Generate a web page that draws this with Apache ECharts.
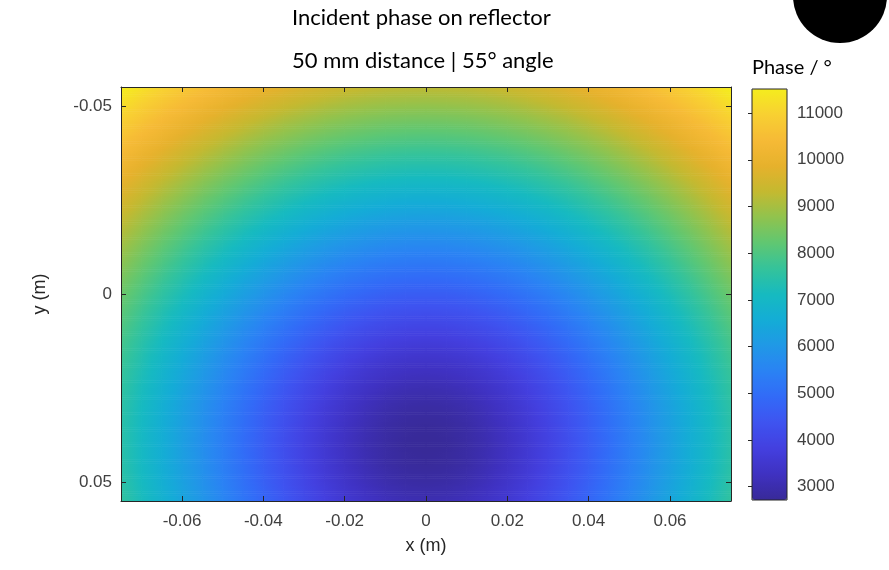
<!DOCTYPE html>
<html><head><meta charset="utf-8">
<script src="https://cdn.jsdelivr.net/npm/echarts@6/dist/echarts.min.js"></script>
<style>html,body{margin:0;padding:0;background:#fff}#c{width:889px;height:570px}</style>
</head><body><div id="c"></div>
<script>
// grid nodes (m)
const xValues = [-0.075,-0.07,-0.065,-0.06,-0.055,-0.05,-0.045,-0.04,-0.035,-0.03,-0.025,-0.02,-0.015,-0.01,-0.005,0,0.005,0.01,0.015,0.02,0.025,0.03,0.035,0.04,0.045,0.05,0.055,0.06,0.065,0.07,0.075];
const yValues = [-0.055,-0.05,-0.045,-0.04,-0.035,-0.03,-0.025,-0.02,-0.015,-0.01,-0.005,0,0.005,0.01,0.015,0.02,0.025,0.03,0.035,0.04,0.045,0.05,0.055];
// phase in degrees, one row per y value, one column per x value
const phaseRows = [
[11590,11310,11050,10800,10570,10350,10150,9970,9810,9660,9540,9430,9350,9290,9260,9250,9260,9290,9350,9430,9540,9660,9810,9970,10150,10350,10570,10800,11050,11310,11590],
[11240,10950,10680,10430,10180,9960,9750,9560,9390,9240,9110,9000,8910,8850,8820,8800,8820,8850,8910,9000,9110,9240,9390,9560,9750,9960,10180,10430,10680,10950,11240],
[10890,10600,10320,10060,9810,9570,9350,9150,8970,8820,8680,8570,8480,8410,8370,8360,8370,8410,8480,8570,8680,8820,8970,9150,9350,9570,9810,10060,10320,10600,10890],
[10560,10260,9970,9690,9430,9190,8960,8750,8570,8400,8260,8140,8050,7980,7940,7920,7940,7980,8050,8140,8260,8400,8570,8750,8960,9190,9430,9690,9970,10260,10560],
[10240,9930,9630,9340,9070,8820,8580,8360,8170,7990,7840,7710,7620,7540,7500,7490,7500,7540,7620,7710,7840,7990,8170,8360,8580,8820,9070,9340,9630,9930,10240],
[9930,9600,9290,9000,8720,8450,8210,7980,7770,7590,7430,7300,7190,7120,7070,7050,7070,7120,7190,7300,7430,7590,7770,7980,8210,8450,8720,9000,9290,9600,9930],
[9630,9290,8970,8670,8370,8100,7840,7600,7380,7190,7020,6880,6770,6690,6640,6630,6640,6690,6770,6880,7020,7190,7380,7600,7840,8100,8370,8670,8970,9290,9630],
[9340,9000,8670,8350,8050,7760,7490,7240,7010,6800,6630,6480,6360,6270,6220,6200,6220,6270,6360,6480,6630,6800,7010,7240,7490,7760,8050,8350,8670,9000,9340],
[9070,8720,8370,8050,7730,7430,7150,6880,6640,6430,6240,6080,5960,5860,5810,5790,5810,5860,5960,6080,6240,6430,6640,6880,7150,7430,7730,8050,8370,8720,9070],
[8820,8450,8100,7760,7430,7120,6820,6540,6290,6060,5860,5690,5560,5460,5400,5380,5400,5460,5560,5690,5860,6060,6290,6540,6820,7120,7430,7760,8100,8450,8820],
[8580,8210,7840,7490,7150,6820,6510,6220,5960,5710,5500,5320,5180,5070,5010,4980,5010,5070,5180,5320,5500,5710,5960,6220,6510,6820,7150,7490,7840,8210,8580],
[8360,7980,7600,7240,6880,6540,6220,5920,5640,5380,5160,4960,4810,4690,4620,4600,4620,4690,4810,4960,5160,5380,5640,5920,6220,6540,6880,7240,7600,7980,8360],
[8170,7770,7380,7010,6640,6290,5960,5640,5340,5070,4830,4620,4460,4330,4260,4230,4260,4330,4460,4620,4830,5070,5340,5640,5960,6290,6640,7010,7380,7770,8170],
[7990,7590,7190,6800,6430,6060,5710,5380,5070,4780,4530,4310,4130,4000,3910,3880,3910,4000,4130,4310,4530,4780,5070,5380,5710,6060,6430,6800,7190,7590,7990],
[7840,7430,7020,6630,6240,5860,5500,5160,4830,4530,4260,4020,3830,3680,3600,3560,3600,3680,3830,4020,4260,4530,4830,5160,5500,5860,6240,6630,7020,7430,7840],
[7710,7300,6880,6480,6080,5690,5320,4960,4620,4310,4020,3770,3560,3410,3310,3280,3310,3410,3560,3770,4020,4310,4620,4960,5320,5690,6080,6480,6880,7300,7710],
[7620,7190,6770,6360,5960,5560,5180,4810,4460,4130,3830,3560,3350,3180,3080,3040,3080,3180,3350,3560,3830,4130,4460,4810,5180,5560,5960,6360,6770,7190,7620],
[7540,7120,6690,6270,5860,5460,5070,4690,4330,4000,3680,3410,3180,3000,2890,2860,2890,3000,3180,3410,3680,4000,4330,4690,5070,5460,5860,6270,6690,7120,7540],
[7500,7070,6640,6220,5810,5400,5010,4620,4260,3910,3600,3310,3080,2890,2780,2740,2780,2890,3080,3310,3600,3910,4260,4620,5010,5400,5810,6220,6640,7070,7500],
[7490,7050,6630,6200,5790,5380,4980,4600,4230,3880,3560,3280,3040,2860,2740,2700,2740,2860,3040,3280,3560,3880,4230,4600,4980,5380,5790,6200,6630,7050,7490],
[7500,7070,6640,6220,5810,5400,5010,4620,4260,3910,3600,3310,3080,2890,2780,2740,2780,2890,3080,3310,3600,3910,4260,4620,5010,5400,5810,6220,6640,7070,7500],
[7540,7120,6690,6270,5860,5460,5070,4690,4330,4000,3680,3410,3180,3000,2890,2860,2890,3000,3180,3410,3680,4000,4330,4690,5070,5460,5860,6270,6690,7120,7540],
[7620,7190,6770,6360,5960,5560,5180,4810,4460,4130,3830,3560,3350,3180,3080,3040,3080,3180,3350,3560,3830,4130,4460,4810,5180,5560,5960,6360,6770,7190,7620]
];
const phaseMin = 2715;
const phaseMax = 11515;
const colormap = ['#382a98','#3f31c1','#433fdf','#3e53f0','#326af7','#2a82f4','#2098e6','#14acd6','#16bac0','#34c39b','#5fc772','#90c34e','#c4b930','#e6b12c','#f6ba36','#f8d032','#f5ec1e'];

const data = [];
yValues.forEach((y, j) => xValues.forEach((x, i) => data.push([x, y, phaseRows[j][i], i, j])));

function colorOf(v) {
  const t = Math.max(0, Math.min(1, (v - phaseMin) / (phaseMax - phaseMin)));
  return echarts.color.lerp(t, colormap);
}

const axisCol = '#262626', labCol = '#404040';
const tickFont = {color: labCol, fontSize: 17, fontFamily: 'Liberation Sans, Arial, sans-serif'};
const plotGrid = {left: 121, top: 87, width: 610, height: 414};
function mainX(pos, labels) {
  return {type: 'value', gridIndex: 0, position: pos, min: -0.075, max: 0.075, splitNumber: 7,
    axisLine: {show: true, onZero: false, lineStyle: {color: axisCol, width: 1}},
    axisTick: {show: true, inside: true, length: 5, lineStyle: {color: axisCol}},
    axisLabel: Object.assign({show: labels, margin: 12, showMinLabel: false, showMaxLabel: false}, tickFont),
    splitLine: {show: false}, z: 5,
    name: labels ? 'x (m)' : '', nameLocation: 'middle', nameGap: 36,
    nameTextStyle: {color: axisCol, fontSize: 18, fontFamily: 'Liberation Sans, Arial, sans-serif'}};
}
function mainY(pos, labels) {
  return {type: 'value', gridIndex: 0, position: pos, inverse: true, min: -0.055, max: 0.055, splitNumber: 2,
    axisLine: {show: true, onZero: false, lineStyle: {color: axisCol, width: 1}},
    axisTick: {show: true, inside: true, length: 5, lineStyle: {color: axisCol}},
    axisLabel: Object.assign({show: labels, margin: 9, showMinLabel: false, showMaxLabel: false}, tickFont),
    splitLine: {show: false}, z: 5,
    name: labels ? 'y (m)' : '', nameLocation: 'middle', nameGap: 72,
    nameTextStyle: {color: axisCol, fontSize: 18, fontFamily: 'Liberation Sans, Arial, sans-serif'}};
}
const titleFont = {fontFamily: 'Lato, Noto Sans, sans-serif', fontSize: 22, fontWeight: 'normal', color: '#000'};
const STRIPS = 10;
const chart = echarts.init(document.getElementById('c'), null, {renderer: 'canvas'});
chart.setOption({
  animation: false,
  backgroundColor: '#fff',
  title: [
    {text: 'Incident phase on reflector', left: 287, top: 2, textStyle: titleFont},
    {text: '50 mm distance | 55° angle', left: 287, top: 45, textStyle: titleFont},
    {text: 'Phase / °', left: 747, top: 53, textStyle: Object.assign({}, titleFont, {fontSize: 20})}
  ],
  grid: [
    Object.assign({show: false}, plotGrid),
    {left: 752, top: 89, width: 35, height: 411, show: true, borderColor: axisCol, borderWidth: 1, backgroundColor: 'rgba(0,0,0,0)', z: 10}
  ],
  xAxis: [mainX('bottom', true), mainX('top', false), {type: 'value', gridIndex: 1, show: false, min: 0, max: 1}],
  yAxis: [mainY('left', true), mainY('right', false),
    {type: 'value', gridIndex: 1, position: 'right', min: phaseMin, max: phaseMax, splitNumber: 8, z: 10,
      axisLine: {show: false}, axisTick: {show: true, inside: true, length: 4, lineStyle: {color: axisCol}},
      axisLabel: Object.assign({margin: 10, showMinLabel: false, showMaxLabel: false,
        formatter: function (v) { return String(Math.round(v)); }}, tickFont),
      splitLine: {show: false}}],
  visualMap: {type: 'continuous', min: phaseMin, max: phaseMax, dimension: 2, seriesIndex: 0,
    calculable: false, hoverLink: false, orient: 'vertical', left: 752, top: 89, itemWidth: 35, itemHeight: 411,
    padding: 0, borderWidth: 0, inRange: {color: colormap}},
  graphic: [{type: 'circle', shape: {cx: 840, cy: -4, r: 47}, style: {fill: '#000'}, z: 100}],
  series: [{
    type: 'custom', xAxisIndex: 0, yAxisIndex: 0, clip: true, data: data,
    encode: {x: 0, y: 1},
    renderItem: function (params, api) {
      // each node shades the patch to its right / lower neighbours (surface with interpolated shading)
      const i = api.value(3), j = api.value(4);
      if (i >= xValues.length - 1 || j >= yValues.length - 1) return null;
      const v00 = api.value(2), v10 = phaseRows[j][i + 1];
      const v01 = phaseRows[j + 1][i], v11 = phaseRows[j + 1][i + 1];
      const pa = api.coord([xValues[i], yValues[j]]);
      const pb = api.coord([xValues[i + 1], yValues[j + 1]]);
      const x0 = Math.min(pa[0], pb[0]), w = Math.abs(pb[0] - pa[0]);
      const y0 = Math.min(pa[1], pb[1]), h = Math.abs(pb[1] - pa[1]);
      const topIsA = pa[1] <= pb[1];
      const children = [];
      for (let k = 0; k < STRIPS; k++) {
        let t = (k + 0.5) / STRIPS;
        if (!topIsA) t = 1 - t;
        const vl = v00 + (v01 - v00) * t, vr = v10 + (v11 - v10) * t;
        children.push({type: 'rect',
          shape: {x: x0 - 0.3, y: y0 + h * k / STRIPS - 0.3, width: w + 0.6, height: h / STRIPS + 0.6},
          style: {fill: new echarts.graphic.LinearGradient(0, 0, 1, 0, [
            {offset: 0, color: colorOf(vl)},
            {offset: 0.5, color: colorOf((vl + vr) / 2)},
            {offset: 1, color: colorOf(vr)}])}});
      }
      return {type: 'group', children: children};
    }
  }]
});
</script></body></html>
